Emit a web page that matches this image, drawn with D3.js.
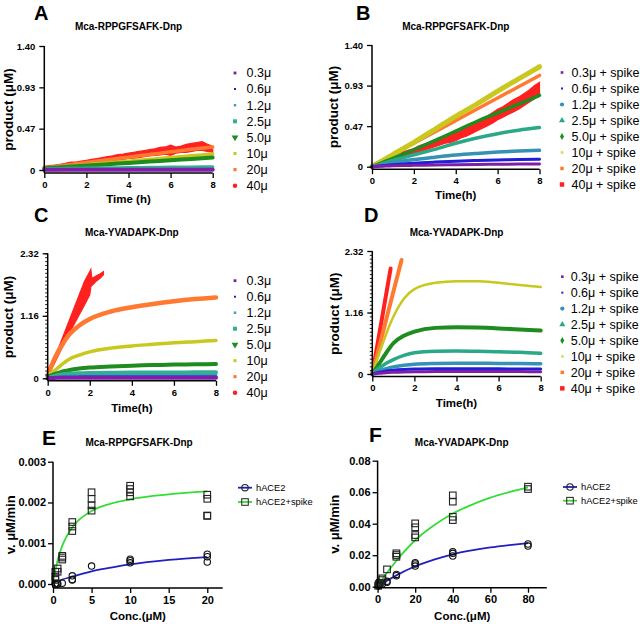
<!DOCTYPE html>
<html><head><meta charset="utf-8">
<script src="https://cdn.jsdelivr.net/npm/d3@7/dist/d3.min.js"></script>
<style>html,body{margin:0;padding:0;background:#fff}svg{display:block}</style>
</head><body>
<svg id="chart" width="640" height="624"></svg>
<script>
// ---------------- DATA ----------------
const concLabels = ["0.3μ","0.6μ","1.2μ","2.5μ","5.0μ","10μ","20μ","40μ"];
const spikeLabels = ["0.3μ + spike","0.6μ + spike","1.2μ + spike","2.5μ + spike","5.0μ + spike","10μ + spike","20μ + spike","40μ + spike"];
const timeTicks = [0,2,4,6,8];
const timeGrid = [0,0.25,0.5,0.75,1,1.5,2,3,4,5,6,7,8];
const timeFine = [0,0.25,0.5,0.75,1,1.25,1.5,1.75,2,2.25,2.5,2.75,3,3.25,3.5,3.75,4,4.25,4.5,4.75,5,5.25,5.5,5.75,6,6.25,6.5,6.75,7,7.25,7.5,7.75,8];

// Panel A (hACE2, Mca-RPPGFSAFK-Dnp) rows 0.3 .. 20 on timeGrid
const productA = [
  [0.002,0.002,0.002,0.002,0.002,0.002,0.002,0.002,0.002,0.002,0.002,0.002,0.002],
  [0.004,0.004,0.004,0.004,0.005,0.005,0.005,0.005,0.006,0.006,0.006,0.007,0.007],
  [0.007,0.007,0.008,0.008,0.008,0.009,0.009,0.010,0.011,0.012,0.012,0.013,0.013],
  [0.012,0.013,0.014,0.015,0.016,0.017,0.019,0.022,0.025,0.028,0.030,0.032,0.034],
  [0.020,0.024,0.028,0.031,0.035,0.043,0.050,0.065,0.080,0.095,0.110,0.125,0.140],
  [0.020,0.025,0.030,0.035,0.040,0.050,0.060,0.080,0.100,0.120,0.140,0.160,0.180],
  [0.025,0.032,0.040,0.047,0.055,0.070,0.085,0.115,0.145,0.175,0.205,0.235,0.260]
];
const redA_low  = [0.02,0.025,0.03,0.035,0.045,0.05,0.055,0.06,0.07,0.075,0.08,0.09,0.095,0.105,0.11,0.12,0.13,0.135,0.14,0.15,0.16,0.165,0.17,0.18,0.165,0.19,0.2,0.2,0.21,0.22,0.22,0.21,0.2];
const redA_high = [0.04,0.05,0.055,0.065,0.075,0.09,0.09,0.1,0.11,0.12,0.13,0.14,0.15,0.16,0.175,0.18,0.19,0.2,0.21,0.22,0.23,0.24,0.255,0.26,0.28,0.26,0.27,0.29,0.3,0.31,0.32,0.29,0.27];

// Panel B (hACE2 + spike, Mca-RPPGFSAFK-Dnp)
const productB = [
  [0,0.003,0.006,0.008,0.010,0.013,0.016,0.020,0.023,0.026,0.028,0.030,0.031],
  [0,0.006,0.012,0.017,0.022,0.031,0.040,0.053,0.063,0.071,0.077,0.082,0.085],
  [0,0.012,0.024,0.035,0.046,0.065,0.082,0.110,0.135,0.153,0.168,0.180,0.188],
  [0,0.018,0.036,0.054,0.072,0.105,0.138,0.200,0.270,0.330,0.380,0.420,0.450],
  [0,0.024,0.048,0.072,0.096,0.145,0.195,0.300,0.410,0.520,0.620,0.720,0.820],
  [0,0.035,0.070,0.105,0.140,0.210,0.280,0.430,0.580,0.720,0.870,1.010,1.150],
  [0.01,0.042,0.075,0.108,0.140,0.205,0.270,0.400,0.530,0.660,0.790,0.920,1.050]
];
const redB_low  = [0.01,0.03,0.05,0.06,0.08,0.1,0.12,0.14,0.15,0.17,0.19,0.21,0.23,0.25,0.27,0.28,0.3,0.33,0.35,0.38,0.41,0.44,0.47,0.5,0.54,0.57,0.6,0.63,0.66,0.7,0.74,0.78,0.82];
const redB_high = [0.03,0.05,0.08,0.1,0.12,0.14,0.17,0.19,0.21,0.24,0.26,0.28,0.31,0.33,0.36,0.38,0.4,0.43,0.46,0.49,0.52,0.55,0.58,0.62,0.66,0.69,0.73,0.77,0.8,0.84,0.88,0.93,0.97];

// Panel C (hACE2, Mca-YVADAPK-Dnp)
const productC = [
  [0,0.005,0.008,0.009,0.010,0.010,0.010,0.011,0.011,0.011,0.011,0.011,0.011],
  [0,0.010,0.015,0.018,0.020,0.022,0.023,0.024,0.025,0.025,0.025,0.025,0.025],
  [0,0.020,0.033,0.042,0.048,0.054,0.057,0.060,0.061,0.062,0.062,0.062,0.062],
  [0,0.035,0.060,0.075,0.085,0.095,0.100,0.104,0.106,0.108,0.109,0.110,0.110],
  [0.03,0.07,0.10,0.13,0.15,0.18,0.20,0.22,0.235,0.245,0.255,0.26,0.265],
  [0.05,0.12,0.20,0.28,0.35,0.43,0.49,0.56,0.60,0.63,0.66,0.68,0.70],
  [0.05,0.30,0.50,0.66,0.80,0.98,1.10,1.24,1.32,1.38,1.43,1.47,1.50]
];
const timeRedC = [0,0.25,0.5,0.75,1,1.25,1.5,1.75,2,2.05,2.1,2.3,2.5,2.65];
const redC_low  = [0.04,0.22,0.42,0.62,0.82,1.0,1.18,1.36,1.55,1.7,1.72,1.8,1.86,1.92];
const redC_high = [0.08,0.3,0.55,0.8,1.05,1.3,1.55,1.8,1.98,2.02,1.85,1.9,1.94,1.98];

// Panel D (hACE2 + spike, Mca-YVADAPK-Dnp)
const productD = [
  [0,0.010,0.020,0.028,0.033,0.040,0.043,0.045,0.046,0.046,0.045,0.045,0.044],
  [0,0.025,0.045,0.060,0.072,0.085,0.092,0.097,0.098,0.098,0.097,0.096,0.095],
  [0,0.045,0.080,0.110,0.135,0.165,0.185,0.200,0.205,0.205,0.200,0.200,0.195],
  [0,0.090,0.160,0.220,0.270,0.350,0.400,0.430,0.435,0.430,0.420,0.410,0.390],
  [0,0.150,0.300,0.450,0.580,0.720,0.800,0.870,0.880,0.875,0.860,0.840,0.820],
  [0,0.300,0.580,0.850,1.080,1.420,1.600,1.720,1.750,1.750,1.720,1.680,1.640]
];
const timeOrangeD = [0,0.5,1,1.39];
const orangeD = [0,0.78,1.55,2.15];
const timeRedD = [0,0.25,0.5,0.87];
const redD = [0,0.57,1.14,1.99];

const yTicksAB = [0,0.4667,0.9333,1.40];
const yLabelsAB = ["0","0.47","0.93","1.40"];
const yTicksCD = [0,1.16,2.32];
const yLabelsCD = ["0","1.16","2.32"];

// Panel E (Mca-RPPGFSAFK-Dnp) initial velocities
const eCircleConc = [0.3,0.3,0.6,0.6,1.2,2.5,2.5,2.5,5,10,10,10,20,20,20];
const eCircleV    = [0.0,0.00001,0.0,0.00001,0.00002,0.0002,0.00011,0.0001,0.00044,0.00061,0.00057,0.00052,0.00073,0.00067,0.00054];
const eSquareConc = [0.3,0.3,0.3,0.6,0.6,1.2,1.2,1.2,2.5,2.5,2.5,5,5,5,5,10,10,10,10,20,20,20,20];
const eSquareV    = [0.0003,0.00018,0.0001,0.00038,0.0003,0.00069,0.00065,0.0006,0.00152,0.00141,0.0013,0.00225,0.00209,0.00193,0.0018,0.00241,0.00233,0.00225,0.00215,0.00219,0.00209,0.00168,0.00167];
const eFitConc = [0,0.3,0.6,1.2,2.5,5,7.5,10,15,20];
const eFitBlue  = [0.00003,0.00005,0.00007,0.00011,0.00018,0.00031,0.0004,0.00048,0.00059,0.00066];
const eFitGreen = [0.00005,0.00033,0.00058,0.00094,0.00139,0.00179,0.00197,0.00208,0.0022,0.00227];
const eXTicks = [0,5,10,15,20];
const eYTicks = [0,0.001,0.002,0.003];

// Panel F (Mca-YVADAPK-Dnp)
const fCircleConc = [0.3,0.6,1.2,2.5,5,5,10,10,20,20,20,40,40,40,80,80];
const fCircleV    = [0.0005,0.001,0.0012,0.0017,0.0034,0.0028,0.0078,0.007,0.0152,0.0144,0.0131,0.0222,0.0212,0.0195,0.0271,0.0258];
const fSquareConc = [0.3,0.6,1.2,2.5,2.5,5,10,10,10,20,20,20,20,40,40,40,40,80,80];
const fSquareV    = [0.0006,0.0017,0.0025,0.0042,0.0053,0.011,0.0212,0.0201,0.019,0.0402,0.0377,0.0328,0.0313,0.058,0.054,0.0444,0.0423,0.0635,0.062];
const fFitConc  = [0,2.5,5,10,20,30,40,50,60,70,80];
const fFitBlue  = [0,0.0019,0.0038,0.0072,0.013,0.0172,0.0206,0.023,0.0249,0.0264,0.0277];
const fFitGreen = [0,0.0045,0.0088,0.0165,0.0295,0.039,0.0465,0.052,0.0565,0.06,0.063];
const fXTicks = [0,20,40,60,80];
const fYTicks = [0,0.02,0.04,0.06,0.08];

const legendE = ["hACE2","hACE2+spike"];

// ---------------- STYLE ----------------
const FONT = '"Liberation Sans", Arial, Helvetica, sans-serif';
const colA = ["#7e1fa6","#1f1fd6","#35a3b4","#35b08f","#1e8c1e","#c8c81e","#ff7a30","#ff2020"];
const colB = ["#7e1fa6","#1f1fd6","#3592b5","#2aa888","#1e8c1e","#c8c81e","#ff7a30","#ff2020"];
const legColB = ["#7e1fa6","#1f1fd6","#3592b5","#2aa888","#1e8c1e","#d8d870","#ff7a30","#ff2020"];
const symA = [[d3.symbolSquare,8],[d3.symbolSquare,4],[d3.symbolSquare,6],[d3.symbolSquare,16],[d3.symbolTriangle,20,180],[d3.symbolSquare,9],[d3.symbolSquare,10],[d3.symbolCircle,16]];
const symB = [[d3.symbolSquare,7],[d3.symbolSquare,4],[d3.symbolCircle,14],[d3.symbolTriangle,16,0],[d3.symbolDiamond,14],[d3.symbolSquare,7],[d3.symbolSquare,12],[d3.symbolSquare,20]];

const svg = d3.select("#chart");

function styleAxis(g, fs) {
  g.selectAll("path.domain").attr("stroke","#000").attr("stroke-width",1.5).attr("fill","none");
  g.selectAll(".tick line").attr("stroke","#000").attr("stroke-width",1.3);
  g.selectAll(".tick text").attr("font-family",FONT).attr("font-weight","bold")
    .attr("font-size",fs).attr("fill","#000");
}

function label(x, y, txt, opts) {
  const t = svg.append("text").attr("x",x).attr("y",y).text(txt)
    .attr("font-family",FONT).attr("fill","#000")
    .attr("font-size",opts.size).attr("font-weight",opts.bold ? "bold" : "normal")
    .attr("text-anchor",opts.anchor || "start");
  if (opts.rotate) t.attr("transform",`rotate(-90,${x},${y})`);
  return t;
}

function timePanel(p) {
  const x = d3.scaleLinear().domain([0,8]).range([p.left,p.right]);
  const y = d3.scaleLinear().domain([0,p.ymax]).range([p.zeroY,p.topY]);
  const base = p.zeroY + p.gap;
  const g = svg.append("g");
  const line = d3.line().x(d=>x(d[0])).y(d=>y(d[1])).curve(d3.curveMonotoneX);
  const area = d3.area().x(d=>x(d[0])).y0(d=>y(d[1])).y1(d=>y(d[2])).curve(d3.curveLinear);

  // draw from highest concentration down so the low ones sit on top
  p.extra.slice().reverse().forEach(s => {
    if (s.low) {
      g.append("path").datum(s.t.map((t,i)=>[t,s.low[i],s.high[i]]))
        .attr("d",area).attr("fill",s.color).attr("stroke",s.color).attr("stroke-width",1.2);
    } else {
      g.append("path").datum(s.t.map((t,i)=>[t,s.v[i]]))
        .attr("d",line).attr("fill","none").attr("stroke",s.color)
        .attr("stroke-width",s.w).attr("stroke-linecap","round");
    }
  });
  for (let i = p.rows.length-1; i >= 0; i--) {
    g.append("path").datum(timeGrid.map((t,j)=>[t,p.rows[i][j]]))
      .attr("d",line).attr("fill","none").attr("stroke",p.colors[i])
      .attr("stroke-width",p.widths[i]).attr("stroke-linecap","round");
  }

  const xa = g.append("g").attr("transform",`translate(0,${base})`)
    .call(d3.axisBottom(x).tickValues(timeTicks).tickFormat(d3.format("d"))
      .tickSize(5).tickSizeOuter(0).tickPadding(3));
  styleAxis(xa, 9.5);
  xa.select("path.domain").attr("d",`M${p.left},0H${p.right}`);

  if (p.minor) {
    const ma = g.append("g").attr("transform",`translate(${p.left},0)`)
      .call(d3.axisLeft(y).tickValues(d3.range(0,p.ymax+1e-6,p.ymax/32)).tickFormat("").tickSize(2.5).tickSizeOuter(0));
    ma.select("path.domain").remove();
    ma.selectAll(".tick line").attr("stroke","#000").attr("stroke-width",0.9);
  }
  const ya = g.append("g").attr("transform",`translate(${p.left},0)`)
    .call(d3.axisLeft(y).tickValues(p.yticks).tickFormat((d,i)=>p.ylabels[i])
      .tickSize(5).tickSizeOuter(0).tickPadding(4));
  styleAxis(ya, 9.5);
  ya.select("path.domain").attr("d",`M0,${y(p.ymax)}V${base}`);

  // titles
  label(p.letterX, p.letterY, p.letter, {size:20, bold:true});
  label((p.left+p.right)/2, p.titleY, p.title, {size:10, bold:true, anchor:"middle"});
  label(p.ylabX, (p.topY+base)/2, "product (μM)", {size:13.5, bold:true, anchor:"middle", rotate:true});
  label((p.left+p.right)/2, p.xlabY, p.xlab, {size:11.5, bold:true, anchor:"middle"});

  // legend
  p.legend.forEach((txt,i) => {
    const ly = p.legY + i*p.legStep;
    const s = p.sym[i];
    svg.append("path").attr("d",d3.symbol().type(s[0]).size(s[1])())
      .attr("transform",`translate(${p.legMarkX},${ly}) rotate(${s[2]||0})`)
      .attr("fill",p.legColors[i]);
    label(p.legTextX, ly+4.3, txt, {size:12.5});
  });
}

timePanel({
  left:44.3, right:212.7, zeroY:170, topY:46, ymax:1.40, gap:3,
  yticks:yTicksAB, ylabels:yLabelsAB, minor:false,
  rows:productA, colors:colA, widths:[4,3,3,3.5,4,3.5,3.5],
  extra:[{t:timeFine, low:redA_low, high:redA_high, color:colA[7]}],
  letter:"A", letterX:34, letterY:20, title:"Mca-RPPGFSAFK-Dnp", titleY:30,
  ylabX:12.5, xlab:"Time (h)", xlabY:203,
  legend:concLabels, legColors:colA, sym:symA, legMarkX:235, legTextX:246.5, legY:73, legStep:16.1
});
timePanel({
  left:372, right:539.5, zeroY:166.7, topY:45, ymax:1.40, gap:2.5,
  yticks:yTicksAB, ylabels:yLabelsAB, minor:false,
  rows:productB, colors:colB, widths:[3,3,3.5,3.5,3.5,5,3.5],
  extra:[{t:timeFine, low:redB_low, high:redB_high, color:colB[7]}],
  letter:"B", letterX:356, letterY:20, title:"Mca-RPPGFSAFK-Dnp", titleY:30,
  ylabX:338.5, xlab:"Time(h)", xlabY:199,
  legend:spikeLabels, legColors:legColB, sym:symB, legMarkX:562, legTextX:571.5, legY:72.5, legStep:16
});
timePanel({
  left:47.7, right:216, zeroY:378.3, topY:253.3, ymax:2.32, gap:2.5,
  yticks:yTicksCD, ylabels:yLabelsCD, minor:true,
  rows:productC, colors:colA, widths:[4,3,3,4,4,3.5,4.5],
  extra:[{t:timeRedC, low:redC_low, high:redC_high, color:colA[7]}],
  letter:"C", letterX:34, letterY:222, title:"Mca-YVADAPK-Dnp", titleY:236,
  ylabX:13.5, xlab:"Time(h)", xlabY:412,
  legend:concLabels, legColors:colA, sym:symA, legMarkX:235, legTextX:246.5, legY:280.7, legStep:16
});
timePanel({
  left:372.3, right:540.7, zeroY:374, topY:251, ymax:2.32, gap:2.5,
  yticks:yTicksCD, ylabels:yLabelsCD, minor:true,
  rows:productD, colors:colB, widths:[3,3,3.5,3.5,4,2.5],
  extra:[{t:timeOrangeD, v:orangeD, color:colB[6], w:4},{t:timeRedD, v:redD, color:colB[7], w:4}],
  letter:"D", letterX:364, letterY:222, title:"Mca-YVADAPK-Dnp", titleY:236,
  ylabX:339, xlab:"Time(h)", xlabY:407,
  legend:spikeLabels, legColors:legColB, sym:symB, legMarkX:562.3, legTextX:570.7, legY:276.7, legStep:15.95
});

// ---------- Michaelis-Menten panels ----------
function mmPanel(p) {
  const x = d3.scaleLinear().domain([0,p.xmax]).range([p.left,p.right]);
  const y = d3.scaleLinear().domain([0,p.ymax]).range([p.zeroY,p.topY]);
  const base = p.zeroY + p.gap;
  const g = svg.append("g");
  const line = d3.line().x(d=>x(d[0])).y(d=>y(d[1])).curve(d3.curveMonotoneX);
  g.append("path").datum(p.fitX.map((c,i)=>[c,p.fitBlue[i]])).attr("d",line)
    .attr("fill","none").attr("stroke","#2020c0").attr("stroke-width",1.8);
  g.append("path").datum(p.fitX.map((c,i)=>[c,p.fitGreen[i]])).attr("d",line)
    .attr("fill","none").attr("stroke","#33dd33").attr("stroke-width",1.8);
  g.selectAll(null).data(p.cx.map((c,i)=>[c,p.cv[i]])).join("circle")
    .attr("cx",d=>x(d[0])).attr("cy",d=>y(d[1])).attr("r",3.2)
    .attr("fill","none").attr("stroke","#111").attr("stroke-width",1.1);
  g.selectAll(null).data(p.sx.map((c,i)=>[c,p.sv[i]])).join("rect")
    .attr("x",d=>x(d[0])-3.3).attr("y",d=>y(d[1])-3.3).attr("width",6.6).attr("height",6.6)
    .attr("fill","none").attr("stroke","#222").attr("stroke-width",1.1);

  const xa = g.append("g").attr("transform",`translate(0,${base})`)
    .call(d3.axisBottom(x).tickValues(p.xticks).tickFormat(d3.format("d"))
      .tickSize(5).tickSizeOuter(0).tickPadding(3));
  styleAxis(xa, 11);
  xa.select("path.domain").attr("d",`M${p.left},0H${p.right}`);
  const ya = g.append("g").attr("transform",`translate(${p.left},0)`)
    .call(d3.axisLeft(y).tickValues(p.yticks).tickFormat(d3.format(p.yfmt))
      .tickSize(5).tickSizeOuter(0).tickPadding(2));
  styleAxis(ya, 11);
  ya.select("path.domain").attr("d",`M0,${y(p.ymax)}V${base}`);

  label(p.letterX, p.letterY, p.letter, {size:21, bold:true});
  label(p.titleX, p.titleY, p.title, {size:10, bold:true, anchor:"middle"});
  label(p.ylabX, (p.topY+base)/2, "v. μM/min", {size:13, bold:true, anchor:"middle", rotate:true});
  label((p.left+p.right)/2, p.xlabY, "Conc.(μM)", {size:11.5, bold:true, anchor:"middle"});

  // legend
  [["#2020c0","circle"],["#33dd33","square"]].forEach((s,i) => {
    const ly = p.legY + i*p.legStep;
    svg.append("line").attr("x1",p.legX).attr("x2",p.legX+14).attr("y1",ly).attr("y2",ly)
      .attr("stroke",s[0]).attr("stroke-width",1.8);
    if (s[1]==="circle") {
      svg.append("circle").attr("cx",p.legX+7).attr("cy",ly).attr("r",3.2)
        .attr("fill","none").attr("stroke","#222").attr("stroke-width",1.1);
    } else {
      svg.append("rect").attr("x",p.legX+3.7).attr("y",ly-3.3).attr("width",6.6).attr("height",6.6)
        .attr("fill","none").attr("stroke","#333").attr("stroke-width",1.1);
    }
    label(p.legX+18, ly+3.3, legendE[i], {size:9.3});
  });
}

mmPanel({
  left:53, right:222.7, zeroY:584, topY:461.7, xmax:22, ymax:0.003, gap:4,
  xticks:eXTicks, yticks:eYTicks, yfmt:".3f",
  cx:eCircleConc, cv:eCircleV, sx:eSquareConc, sv:eSquareV,
  fitX:eFitConc, fitBlue:eFitBlue, fitGreen:eFitGreen,
  letter:"E", letterX:42, letterY:445, title:"Mca-RPPGFSAFK-Dnp", titleX:139, titleY:446,
  ylabX:15.5, xlabY:620, legX:238, legY:487.7, legStep:14.3
});
mmPanel({
  left:377.6, right:546.8, zeroY:586.7, topY:460.7, xmax:90, ymax:0.08, gap:1,
  xticks:fXTicks, yticks:fYTicks, yfmt:".2f",
  cx:fCircleConc, cv:fCircleV, sx:fSquareConc, sv:fSquareV,
  fitX:fFitConc, fitBlue:fFitBlue, fitGreen:fFitGreen,
  letter:"F", letterX:369, letterY:442, title:"Mca-YVADAPK-Dnp", titleX:461.7, titleY:446,
  ylabX:339, xlabY:620, legX:563, legY:487, legStep:13.7
});
</script>
</body></html>
